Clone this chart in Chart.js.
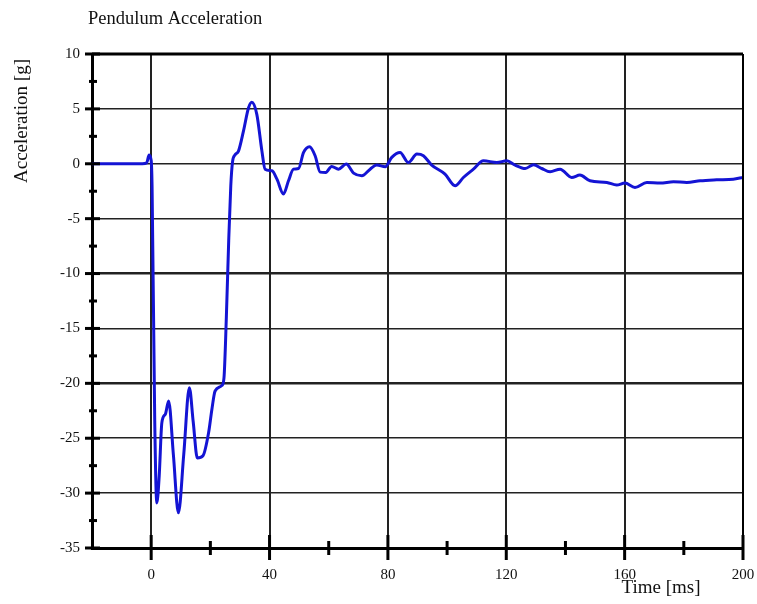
<!DOCTYPE html>
<html>
<head>
<meta charset="utf-8">
<script src="https://cdn.jsdelivr.net/npm/chart.js@4/dist/chart.umd.min.js"></script>
<style>
html,body{margin:0;padding:0;background:#fff;}
#wrap{width:757px;height:604px;position:relative;}
</style>
</head>
<body>
<div id="wrap"><canvas id="c" width="757" height="604"></canvas></div>
<script>
const timeMs = [-20, -10, -3, -1.5, -0.7, 0, 0.3, 1.2, 1.9, 2.7, 3.6, 4.8, 5.9, 7.5, 9.2, 11.0, 12.9, 14.2, 15.6, 17.5, 19.4, 20.5, 21.6, 23.9, 24.6, 25.4, 26.2, 26.9, 27.5, 28.3, 29.5, 31.2, 32.9, 34.0, 35.7, 37.4, 38.5, 40.8, 42.5, 44.7, 46.4, 48.1, 49.8, 51.5, 53.5, 55.4, 57.1, 59.0, 61.0, 63.3, 65.9, 68.4, 71.2, 74.0, 76.2, 79.1, 81.3, 84.1, 86.9, 89.8, 92.0, 94.8, 99.3, 102.7, 105.5, 108.9, 112.3, 116.8, 120.2, 123, 126.4, 129.2, 132, 134.8, 138.2, 142.1, 144.9, 148.3, 154, 157.3, 160.1, 163.5, 167.5, 172, 176.5, 181, 185.5, 191.1, 196.7, 200];
const accelG = [0, 0, 0, 0.1, 0.8, 0.3, -2, -23.4, -30.9, -28.5, -23.6, -22.8, -21.6, -26.5, -31.8, -26.5, -20.4, -23.5, -26.8, -26.6, -24.5, -22.4, -20.7, -20.2, -19.5, -14, -7, -2, 0.2, 0.8, 1.15, 3.0, 5.1, 5.6, 4.5, 1.2, -0.5, -0.64, -1.4, -2.75, -1.55, -0.49, -0.43, 1.03, 1.55, 0.73, -0.76, -0.79, -0.24, -0.49, -0.03, -0.85, -1.09, -0.49, -0.12, -0.27, 0.58, 1.03, 0.12, 0.88, 0.73, -0.12, -0.94, -2.0, -1.25, -0.49, 0.27, 0.12, 0.27, -0.12, -0.43, -0.09, -0.43, -0.73, -0.49, -1.25, -1.03, -1.55, -1.7, -1.94, -1.76, -2.16, -1.7, -1.76, -1.64, -1.7, -1.55, -1.46, -1.4, -1.25];
const xTickValues = [0, 40, 80, 120, 160, 200];
const xMinorValues = [20, 60, 100, 140, 180];
const yTickValues = [10, 5, 0, -5, -10, -15, -20, -25, -30, -35];
const chartTitle = "Pendulum Acceleration";
const xTitle = "Time [ms]";
const yTitle = "Acceleration [g]";

const serif = '"Liberation Serif", "Times New Roman", serif';

const decor = {
  id: 'decor',
  afterDraw(chart) {
    const ctx = chart.ctx;
    const xs = chart.scales.x, ys = chart.scales.y;
    const a = chart.chartArea;
    ctx.save();
    ctx.strokeStyle = '#000';
    ctx.lineCap = 'butt';
    // top & right frame
    ctx.lineWidth = 3;
    ctx.beginPath(); ctx.moveTo(a.left, a.top); ctx.lineTo(a.right, a.top); ctx.stroke();
    ctx.lineWidth = 2;
    ctx.beginPath(); ctx.moveTo(a.right, a.top); ctx.lineTo(a.right, a.bottom); ctx.stroke();
    // y ticks
    ctx.lineWidth = 3;
    yTickValues.forEach(v => {
      const y = ys.getPixelForValue(v);
      ctx.beginPath(); ctx.moveTo(a.left - 7, y); ctx.lineTo(a.left + 8, y); ctx.stroke();
      if (v > -35) {
        const ym = ys.getPixelForValue(v - 2.5);
        ctx.beginPath(); ctx.moveTo(a.left - 3, ym); ctx.lineTo(a.left + 5, ym); ctx.stroke();
      }
    });
    // x ticks
    xTickValues.forEach(v => {
      const x = xs.getPixelForValue(v);
      ctx.beginPath(); ctx.moveTo(x, a.bottom - 13); ctx.lineTo(x, a.bottom + 12); ctx.stroke();
    });
    xMinorValues.forEach(v => {
      const x = xs.getPixelForValue(v);
      ctx.beginPath(); ctx.moveTo(x, a.bottom - 7); ctx.lineTo(x, a.bottom + 7); ctx.stroke();
    });
    // texts
    ctx.fillStyle = '#111';
    ctx.font = '18.5px ' + serif;
    ctx.textAlign = 'left'; ctx.textBaseline = 'middle';
    ctx.fillText(chartTitle, 88, 19);
    ctx.font = '19px ' + serif;
    ctx.textAlign = 'center';
    ctx.fillText(xTitle, 661, 588);
    ctx.translate(22, 121);
    ctx.rotate(-Math.PI / 2);
    ctx.fillText(yTitle, 0, 0);
    ctx.restore();
  }
};

new Chart(document.getElementById('c'), {
  type: 'scatter',
  data: {
    datasets: [{
      data: timeMs.map((t, i) => ({ x: t, y: accelG[i] })),
      showLine: true,
      borderColor: '#1414d4',
      borderWidth: 3,
      pointRadius: 0,
      cubicInterpolationMode: 'monotone',
      fill: false
    }]
  },
  options: {
    responsive: false,
    animation: false,
    devicePixelRatio: 1,
    layout: { padding: { top: 54, right: 14, left: 0, bottom: 0 } },
    plugins: { legend: { display: false }, title: { display: false }, tooltip: { enabled: false } },
    scales: {
      x: {
        type: 'linear', min: -20, max: 200,
        afterBuildTicks: s => { s.ticks = xTickValues.map(v => ({ value: v })); },
        afterFit: s => { s.height = 56; s.paddingLeft = 0; s.paddingRight = 0; },
        grid: { color: '#222', lineWidth: 2, drawTicks: false },
        border: { color: '#000', width: 3 },
        ticks: { color: '#111', font: { family: serif, size: 15 }, padding: 18, maxRotation: 0, autoSkip: false }
      },
      y: {
        type: 'linear', min: -35, max: 10,
        afterBuildTicks: s => { s.ticks = yTickValues.map(v => ({ value: v })); },
        afterFit: s => { s.width = 92; s.paddingTop = 0; s.paddingBottom = 0; },
        grid: { color: '#222', lineWidth: c => (c.tick && (c.tick.value === -10 || c.tick.value === -20)) ? 2.5 : 1.5, drawTicks: false },
        border: { color: '#000', width: 3 },
        ticks: { color: '#111', font: { family: serif, size: 15 }, padding: 12 }
      }
    }
  },
  plugins: [decor]
});
</script>
</body>
</html>
